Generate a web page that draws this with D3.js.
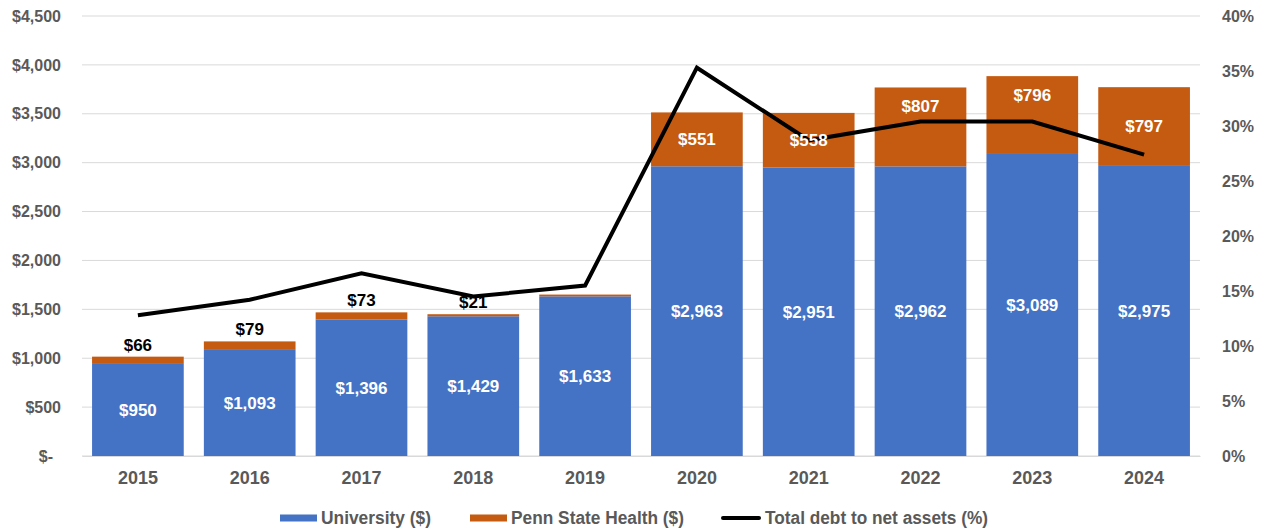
<!DOCTYPE html>
<meta charset="utf-8">
<style>
  body { margin: 0; background: #fff; }
  text { font-family: "Liberation Sans", Arial, sans-serif; font-weight: bold; }
</style>
<div id="chart"></div>
<script src="https://cdn.jsdelivr.net/npm/d3@7"></script>
<script>

// data
var years = ["2015", "2016", "2017", "2018", "2019", "2020", "2021", "2022", "2023", "2024"];
var university = [950, 1093, 1396, 1429, 1633, 2963, 2951, 2962, 3089, 2975];
var pennStateHealth = [66, 79, 73, 21, 18, 551, 558, 807, 796, 797];
// where the Penn State Health label sits (none = no label)
var healthLabelSpot = ["above", "above", "above", "above", "none", "middle", "middle", "upper", "upper", "middle"];
var debtRatio = [12.8, 14.2, 16.6, 14.5, 15.5, 35.3, 28.7, 30.4, 30.4, 27.4];
var leftTicks = [0, 500, 1000, 1500, 2000, 2500, 3000, 3500, 4000, 4500];
var rightTicks = [0, 5, 10, 15, 20, 25, 30, 35, 40];

var W = 1266, H = 531;
var margin = {top: 16, right: 66, bottom: 75, left: 82},
    width = W - margin.left - margin.right,
    height = H - margin.top - margin.bottom;

var blue = "#4472C4", orange = "#C55A11", grey = "#595959";

var svg = d3.select("#chart").append("svg")
    .attr("width", W).attr("height", H)
  .append("g")
    .attr("transform", "translate(" + margin.left + "," + margin.top + ")");

var x = d3.scaleBand().domain(years).range([0, width]).paddingInner(0.18).paddingOuter(0.09);
var y = d3.scaleLinear().domain([0, 4500]).range([height, 0]);
var y2 = d3.scaleLinear().domain([0, 40]).range([height, 0]);

// gridlines
svg.append("g")
  .selectAll("line")
  .data(leftTicks)
  .enter().append("line")
    .attr("x1", 0).attr("x2", width)
    .attr("y1", function(d) { return y(d); })
    .attr("y2", function(d) { return y(d); })
    .attr("stroke", "#d9d9d9").attr("stroke-width", 1);

// left axis
var yAxis = svg.append("g")
  .call(d3.axisLeft(y).tickValues(leftTicks).tickSize(0).tickPadding(21)
    .tickFormat(function(d) { return d === 0 ? "$-" : "$" + d3.format(",")(d); }));
yAxis.select(".domain").remove();
yAxis.selectAll("text").attr("fill", grey).style("font-size", "16px")
  .attr("dx", function(d) { return d === 0 ? -8 : 0; });

// right axis
var y2Axis = svg.append("g")
  .attr("transform", "translate(" + width + ",0)")
  .call(d3.axisRight(y2).tickValues(rightTicks).tickSize(0).tickPadding(22)
    .tickFormat(function(d) { return d + "%"; }));
y2Axis.select(".domain").remove();
y2Axis.selectAll("text").attr("fill", grey).style("font-size", "16px");

// x axis
var xAxis = svg.append("g")
  .attr("transform", "translate(0," + height + ")")
  .call(d3.axisBottom(x).tickSize(0).tickPadding(15));
xAxis.select(".domain").attr("stroke", "#d9d9d9");
xAxis.selectAll("text").attr("fill", grey).style("font-size", "18px");

var rows = years.map(function(yr, i) {
  return {year: yr, uni: university[i], psh: pennStateHealth[i], pct: debtRatio[i], spot: healthLabelSpot[i]};
});

// stacked bars
var bars = svg.append("g").selectAll("g").data(rows).enter().append("g");
bars.append("rect")
  .attr("x", function(d) { return x(d.year); })
  .attr("width", x.bandwidth())
  .attr("y", function(d) { return y(d.uni); })
  .attr("height", function(d) { return y(0) - y(d.uni); })
  .attr("fill", blue);
bars.append("rect")
  .attr("x", function(d) { return x(d.year); })
  .attr("width", x.bandwidth())
  .attr("y", function(d) { return y(d.uni + d.psh); })
  .attr("height", function(d) { return y(d.uni) - y(d.uni + d.psh); })
  .attr("fill", orange);

// line
var line = d3.line()
  .x(function(d) { return x(d.year) + x.bandwidth() / 2; })
  .y(function(d) { return y2(d.pct); });
svg.append("path")
  .datum(rows)
  .attr("d", line)
  .attr("fill", "none")
  .attr("stroke", "#000")
  .attr("stroke-width", 4)
  .attr("stroke-linejoin", "miter");

var money = function(v) { return "$" + d3.format(",")(v); };
var labels = svg.append("g").selectAll("g").data(rows).enter().append("g");

// labels inside the blue part
labels.append("text")
  .attr("x", function(d) { return x(d.year) + x.bandwidth() / 2; })
  .attr("y", function(d) { return (y(0) + y(d.uni)) / 2; })
  .attr("dy", "0.35em")
  .attr("text-anchor", "middle")
  .attr("fill", "#fff")
  .style("font-size", "17px")
  .text(function(d) { return money(d.uni); });

// Penn State Health labels
labels.filter(function(d) { return d.spot !== "none"; }).append("text")
  .attr("x", function(d) { return x(d.year) + x.bandwidth() / 2; })
  .attr("y", function(d) {
    var top = y(d.uni + d.psh), bottom = y(d.uni);
    if (d.spot === "above") return top - 12;
    if (d.spot === "upper") return top + (bottom - top) * 0.24;
    return (top + bottom) / 2;
  })
  .attr("dy", "0.35em")
  .attr("text-anchor", "middle")
  .attr("fill", function(d) { return d.spot === "above" ? "#000" : "#fff"; })
  .style("font-size", "17px")
  .text(function(d) { return money(d.psh); });

// legend (slightly condensed text like the original)
var legend = svg.append("g").attr("transform", "translate(0," + (height + 62) + ")");
var items = [
  {name: "University ($)", type: "rect", color: blue, x: 198, w: 110},
  {name: "Penn State Health ($)", type: "rect", color: orange, x: 388, w: 173},
  {name: "Total debt to net assets (%)", type: "line", color: "#000", x: 639, w: 223}
];
items.forEach(function(it) {
  var g = legend.append("g").attr("transform", "translate(" + it.x + ",0)");
  if (it.type === "rect") {
    g.append("rect").attr("x", 0).attr("y", -3.5).attr("width", 37).attr("height", 7).attr("fill", it.color);
  } else {
    g.append("line").attr("x1", 2).attr("x2", 38).attr("y1", 0).attr("y2", 0)
      .attr("stroke", it.color).attr("stroke-width", 4).attr("stroke-linecap", "round");
  }
  g.append("text").attr("x", it.type === "rect" ? 41 : 44).attr("dy", "0.35em")
    .attr("fill", grey).style("font-size", "17.5px")
    .attr("textLength", it.w).attr("lengthAdjust", "spacingAndGlyphs")
    .text(it.name);
});

</script>
